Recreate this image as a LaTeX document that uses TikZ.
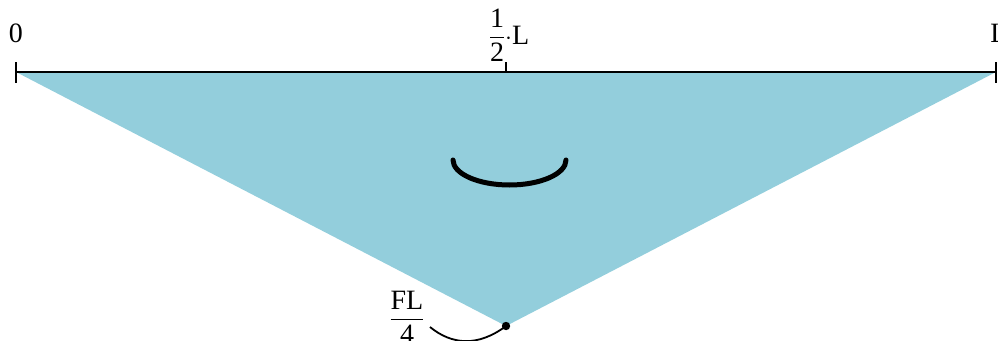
\documentclass[tikz,border=0pt]{standalone}
\usepackage{amsmath}
\usepackage{fontspec}
\setmainfont{Liberation Serif}
\definecolor{beamfill}{HTML}{93CEDC}
\tikzset{
  lbl/.style={inner sep=0pt, font=\fontsize{28}{32}\selectfont},
  axisline/.style={line width=1.8pt},
  smile/.style={line width=5pt, line cap=round},
}
\begin{document}
\begin{tikzpicture}[x=1pt,y=-1pt]
\useasboundingbox (0,0) rectangle (998,340);
\coordinate (A) at (16,72);
\coordinate (M) at (506,72);
\coordinate (B) at (996,72);
\coordinate (P) at (506,326);
\fill[beamfill] (A) -- (B) -- (P) -- cycle;
\draw[axisline] (A) -- (B);
\draw[axisline] (16,62) -- (16,83);
\draw[axisline] (996,62) -- (996,83);
\draw[axisline] (506,62) -- (M);
\node[lbl] (n0) at (16,33) {0};
\node[lbl] (nh) at (509,35) {$\dfrac{\text{1}}{\text{2}}\cdot$L};
\node[lbl] (nL) at (999,33) {L};
\draw[smile] (453,160) arc[start angle=180, end angle=360, x radius=56.5, y radius=-25];
\fill (P) circle (4.2);
\node[lbl] (nf) at (407,317) {$\dfrac{\text{FL}}{\text{4}}$};
\coordinate (c0) at (430,327);
\draw[line width=1.8pt] (c0) .. controls (452,345) and (478,347) .. (P);
\end{tikzpicture}
\end{document}
